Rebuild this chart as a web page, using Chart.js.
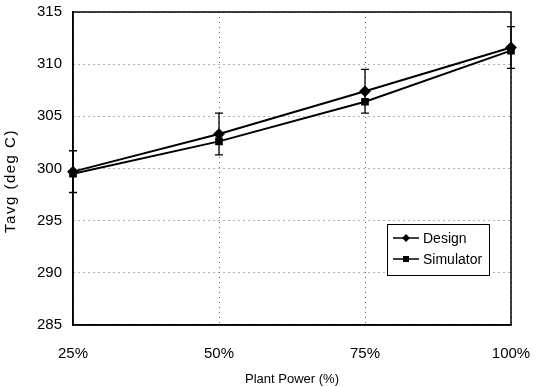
<!DOCTYPE html>
<html>
<head>
<meta charset="utf-8">
<script src="https://cdn.jsdelivr.net/npm/chart.js@4.4.1/dist/chart.umd.min.js"></script>
<style>
html,body{margin:0;padding:0;background:#fff;}
#wrap{width:551px;height:387px;position:relative;}
</style>
</head>
<body>
<div id="wrap"><canvas id="c" width="551" height="387"></canvas></div>
<script>
const categories = ["25%", "50%", "75%", "100%"];
const designValues = [299.7, 303.3, 307.4, 311.6];
const simulatorValues = [299.5, 302.6, 306.4, 311.3];
const designErrors = [2, 2, 2.1, 2];
const yTicks = [285, 290, 295, 300, 305, 310, 315];

const FONT = "'Liberation Sans', Arial, sans-serif";

const frameAndErrors = {
  id: 'frameAndErrors',
  afterDatasetsDraw(chart) {
    const ctx = chart.ctx;
    const a = chart.chartArea;
    const x = chart.scales.x, y = chart.scales.y;
    ctx.save();
    // frame
    ctx.strokeStyle = '#000';
    ctx.lineWidth = 1.5;
    ctx.strokeRect(a.left, a.top, a.right - a.left, a.bottom - a.top);
    // error bars on Design
    ctx.lineWidth = 1.3;
    designValues.forEach((v, i) => {
      const px = x.getPixelForValue(i);
      const top = y.getPixelForValue(v + designErrors[i]);
      const bot = y.getPixelForValue(v - designErrors[i]);
      ctx.beginPath();
      ctx.moveTo(px, top); ctx.lineTo(px, bot);
      ctx.moveTo(px - 4, top); ctx.lineTo(px + 4, top);
      ctx.moveTo(px - 4, bot); ctx.lineTo(px + 4, bot);
      ctx.stroke();
    });
    // legend
    const lx = 387, ly = 224, lw = 102, lh = 51;
    ctx.fillStyle = '#fff';
    ctx.fillRect(lx, ly, lw, lh);
    ctx.lineWidth = 1;
    ctx.strokeStyle = '#000';
    ctx.strokeRect(lx + 0.5, ly + 0.5, lw, lh);
    chart.data.datasets.forEach((ds, i) => {
      const cy = ly + 14 + i * 21;
      ctx.beginPath();
      ctx.lineWidth = 1.5;
      ctx.moveTo(lx + 6, cy); ctx.lineTo(lx + 32, cy);
      ctx.stroke();
      ctx.fillStyle = '#000';
      const mx = lx + 19;
      if (ds.pointStyle === 'rectRot') {
        ctx.beginPath();
        ctx.moveTo(mx, cy - 4); ctx.lineTo(mx + 4, cy); ctx.lineTo(mx, cy + 4); ctx.lineTo(mx - 4, cy);
        ctx.closePath(); ctx.fill();
      } else {
        ctx.fillRect(mx - 3, cy - 3, 6, 6);
      }
      ctx.font = '14px ' + FONT;
      ctx.textBaseline = 'middle';
      ctx.textAlign = 'left';
      ctx.fillText(ds.label, lx + 36, cy + 1);
    });
    ctx.restore();
  }
};

const yTitle = {
  id: 'yTitle',
  afterDraw(chart) {
    const ctx = chart.ctx;
    ctx.save();
    ctx.translate(11, 181);
    ctx.rotate(-Math.PI / 2);
    ctx.font = '15px ' + FONT;
    ctx.fillStyle = '#000';
    ctx.textAlign = 'center';
    ctx.textBaseline = 'middle';
    if ('letterSpacing' in ctx) ctx.letterSpacing = '1.5px';
    ctx.fillText('Tavg (deg C)', 0, 0);
    ctx.restore();
  }
};

new Chart(document.getElementById('c'), {
  type: 'line',
  data: {
    labels: categories,
    datasets: [
      {
        label: 'Design',
        data: designValues,
        borderColor: '#000',
        backgroundColor: '#000',
        borderWidth: 2,
        pointStyle: 'rectRot',
        pointRadius: 4.5,
        tension: 0
      },
      {
        label: 'Simulator',
        data: simulatorValues,
        borderColor: '#000',
        backgroundColor: '#000',
        borderWidth: 2,
        pointStyle: 'rect',
        pointRadius: 4,
        tension: 0
      }
    ]
  },
  options: {
    responsive: false,
    animation: false,
    layout: { padding: { left: 0, right: 40, top: 12, bottom: 0 } },
    plugins: {
      legend: { display: false },
      tooltip: { enabled: false }
    },
    scales: {
      x: {
        type: 'category',
        offset: false,
        grid: {
          color: '#666',
          lineWidth: 1,
          drawTicks: false
        },
        border: { display: true, color: '#000', width: 1.5, dash: [1, 4] },
        ticks: {
          color: '#000',
          font: { family: FONT, size: 15 },
          padding: 20
        },
        title: {
          display: true,
          text: 'Plant Power (%)',
          color: '#000',
          font: { family: FONT, size: 13 },
          padding: { top: 0, bottom: 0 }
        },
        afterFit(s) { s.height = 62; s.paddingLeft = 0; s.paddingRight = 0; }
      },
      y: {
        min: 285,
        max: 315,
        afterBuildTicks(s) { s.ticks = yTicks.map(v => ({ value: v })); },
        grid: {
          color: '#666',
          lineWidth: 1,
          drawTicks: false
        },
        border: { display: true, color: '#000', width: 1.5, dash: [1, 4] },
        ticks: {
          color: '#000',
          font: { family: FONT, size: 15 },
          padding: 11
        },
        title: { display: false },
        afterFit(s) { s.width = 73; s.paddingTop = 0; s.paddingBottom = 0; }
      }
    }
  },
  plugins: [frameAndErrors, yTitle]
});
</script>
</body>
</html>
